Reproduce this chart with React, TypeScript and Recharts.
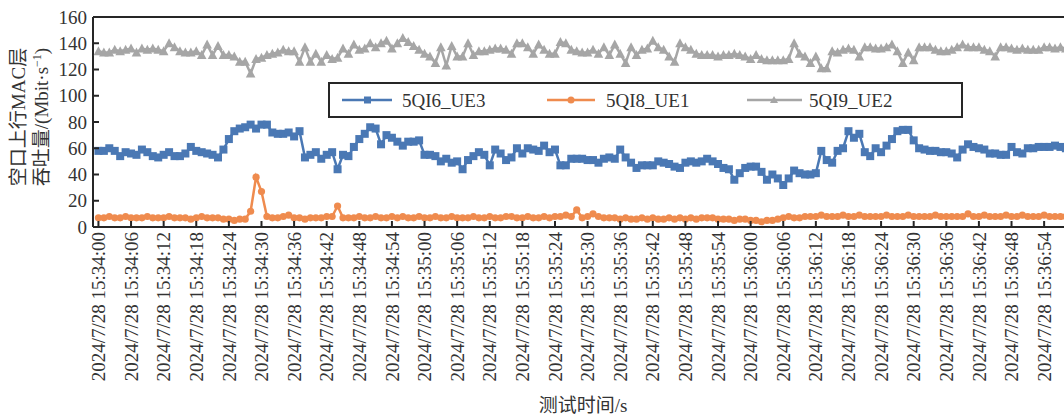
import { LineChart, Line, XAxis, YAxis, Legend, ReferenceLine } from "recharts";

// one sample per second, starting 2024/7/28 15:34:00
const UE3 = [
  58, 58, 60, 58, 54, 57, 56, 55, 59, 57,
  54, 53, 55, 57, 54, 54, 56, 61, 58, 57,
  56, 55, 53, 59, 67, 73, 75, 76, 78, 75,
  78, 78, 72, 71, 71, 72, 69, 73, 53, 55,
  57, 52, 55, 57, 44, 55, 54, 61, 67, 71,
  76, 75, 63, 70, 68, 65, 62, 65, 65, 66,
  55, 55, 54, 50, 52, 49, 50, 44, 51, 54,
  57, 55, 47, 59, 56, 51, 53, 60, 56, 60,
  59, 58, 62, 57, 59, 47, 47, 52, 52, 52,
  51, 51, 49, 52, 53, 52, 59, 53, 49, 45,
  47, 47, 47, 50, 49, 48, 46, 45, 49, 50,
  49, 50, 52, 50, 48, 45, 44, 36, 41, 45,
  46, 46, 42, 36, 40, 37, 32, 37, 43, 41,
  40, 40, 41, 58, 51, 49, 58, 60, 73, 68,
  71, 57, 54, 60, 57, 62, 67, 73, 74, 74,
  66, 60, 59, 58, 58, 57, 57, 56, 53, 59,
  63, 61, 60, 59, 56, 56, 55, 55, 61, 57,
  56, 60, 60, 61, 61, 61, 62, 61, 60,
];

const UE1 = [
  7, 7, 8, 7, 7, 8, 7, 7, 7, 8,
  7, 7, 7, 8, 7, 7, 7, 6, 7, 8,
  7, 7, 7, 6, 6, 5, 6, 6, 12, 38,
  27, 8, 7, 7, 8, 9, 7, 7, 6, 7,
  7, 7, 8, 8, 16, 7, 7, 7, 8, 7,
  7, 8, 7, 7, 8, 7, 8, 7, 7, 8,
  7, 7, 8, 7, 7, 8, 7, 7, 7, 8,
  7, 7, 8, 7, 7, 8, 8, 7, 7, 8,
  7, 7, 8, 7, 8, 8, 9, 8, 13, 7,
  8, 10, 8, 7, 7, 7, 6, 7, 6, 6,
  7, 6, 7, 6, 6, 7, 6, 7, 6, 7,
  6, 7, 7, 7, 6, 6, 6, 5, 6, 6,
  5, 5, 4, 5, 5, 6, 7, 8, 7, 7,
  8, 8, 8, 9, 8, 8, 8, 9, 8, 8,
  9, 8, 8, 8, 8, 9, 8, 8, 8, 9,
  8, 8, 8, 8, 9, 8, 8, 8, 8, 8,
  10, 8, 8, 9, 8, 8, 8, 9, 8, 8,
  9, 8, 8, 8, 9, 8, 8, 8, 8,
];

const UE2 = [
  134, 133, 133, 135, 134, 135, 136, 133, 136, 135,
  136, 135, 134, 140, 137, 134, 133, 133, 134, 131,
  139, 131, 138, 131, 131, 130, 126, 126, 117, 128,
  129, 131, 132, 133, 135, 134, 134, 126, 137, 126,
  132, 126, 131, 128, 129, 136, 132, 139, 135, 136,
  140, 137, 140, 142, 136, 140, 144, 141, 138, 135,
  132, 130, 125, 137, 123, 138, 130, 130, 140, 131,
  134, 134, 135, 136, 136, 135, 132, 140, 140, 137,
  132, 139, 135, 132, 132, 141, 140, 135, 134, 133,
  133, 135, 132, 137, 131, 139, 132, 125, 137, 131,
  135, 136, 142, 137, 135, 130, 126, 140, 137, 135,
  132, 131, 131, 131, 130, 131, 131, 132, 131, 130,
  128, 131, 128, 127, 127, 127, 127, 128, 140, 132,
  130, 125, 130, 121, 121, 134, 133, 135, 136, 135,
  130, 137, 137, 136, 136, 137, 139, 134, 125, 133,
  127, 137, 137, 137, 135, 134, 134, 135, 137, 139,
  137, 137, 137, 135, 134, 130, 137, 137, 136, 135,
  136, 135, 135, 135, 137, 137, 136, 137, 136,
];

const TICK_SECONDS = [
  0, 6, 12, 18, 24, 30, 36, 42, 48, 54, 60, 66, 72, 78, 84,
  90, 96, 102, 108, 114, 120, 126, 132, 138, 144, 150, 156, 162, 168, 174,
];

const TICK_LABELS = [
  "2024/7/28 15:34:00", "2024/7/28 15:34:06", "2024/7/28 15:34:12",
  "2024/7/28 15:34:18", "2024/7/28 15:34:24", "2024/7/28 15:34:30",
  "2024/7/28 15:34:36", "2024/7/28 15:34:42", "2024/7/28 15:34:48",
  "2024/7/28 15:34:54", "2024/7/28 15:35:00", "2024/7/28 15:35:06",
  "2024/7/28 15:35:12", "2024/7/28 15:35:18", "2024/7/28 15:35:24",
  "2024/7/28 15:35:30", "2024/7/28 15:35:36", "2024/7/28 15:35:42",
  "2024/7/28 15:35:48", "2024/7/28 15:35:54", "2024/7/28 15:36:00",
  "2024/7/28 15:36:06", "2024/7/28 15:36:12", "2024/7/28 15:36:18",
  "2024/7/28 15:36:24", "2024/7/28 15:36:30", "2024/7/28 15:36:36",
  "2024/7/28 15:36:42", "2024/7/28 15:36:48", "2024/7/28 15:36:54",
];

const Y_TICKS = [0, 20, 40, 60, 80, 100, 120, 140, 160];

const BLUE = "#4a78b4";
const ORANGE = "#ef8b4e";
const GRAY = "#a6a6a6";
const INK = "#333";
const AXIS = "#262626";
const FONT = '"Liberation Serif", "Times New Roman", "Noto Sans CJK SC", serif';

const AXIS_X = 93;
const AXIS_Y = 227;

const data = UE3.map((v, i) => ({ t: i, ue3: v, ue1: UE1[i], ue2: UE2[i] }));

function XTick({ x, payload }: any) {
  const label = TICK_LABELS[TICK_SECONDS.indexOf(payload.value)] ?? "";
  const ty = AXIS_Y + 5;
  return (
    <g>
      <line x1={x} x2={x} y1={AXIS_Y} y2={AXIS_Y - 6} stroke={AXIS} strokeWidth={2} />
      <text
        x={x}
        y={ty}
        transform={`rotate(-90, ${x}, ${ty})`}
        textAnchor="end"
        dy="0.35em"
        fontSize={19}
        fill={INK}
        fontFamily={FONT}
      >
        {label}
      </text>
    </g>
  );
}

function YTick({ y, payload }: any) {
  return (
    <g>
      <line x1={AXIS_X} x2={AXIS_X + 6} y1={y} y2={y} stroke={AXIS} strokeWidth={2} />
      <text
        x={AXIS_X - 6}
        y={y}
        dy="0.35em"
        textAnchor="end"
        fontSize={19}
        fill={INK}
        fontFamily={FONT}
      >
        {payload.value}
      </text>
    </g>
  );
}

function SquareDot({ cx, cy }: any) {
  if (cx == null || cy == null) return null;
  return <rect x={cx - 4} y={cy - 4} width={8} height={8} fill={BLUE} />;
}

function CircleDot({ cx, cy }: any) {
  if (cx == null || cy == null) return null;
  return <circle cx={cx} cy={cy} r={3.6} fill={ORANGE} />;
}

function TriangleDot({ cx, cy }: any) {
  if (cx == null || cy == null) return null;
  return (
    <path d={`M${cx},${cy - 5} L${cx + 4.8},${cy + 4} L${cx - 4.8},${cy + 4} Z`} fill={GRAY} />
  );
}

function LegendBox() {
  const cy = 18;
  const text = { fontSize: 19, fill: INK, fontFamily: FONT } as const;
  return (
    <svg width={636} height={37} style={{ display: "block" }}>
      <rect x={1} y={1} width={633} height={34} fill="#fff" stroke={AXIS} strokeWidth={2} />
      <line x1={14} x2={64} y1={cy} y2={cy} stroke={BLUE} strokeWidth={2.5} />
      <rect x={36} y={cy - 3.5} width={7} height={7} fill={BLUE} />
      <text x={74} y={cy} dy="0.35em" {...text}>5QI6_UE3</text>
      <line x1={219} x2={267} y1={cy} y2={cy} stroke={ORANGE} strokeWidth={2.5} />
      <circle cx={243} cy={cy} r={3.5} fill={ORANGE} />
      <text x={278} y={cy} dy="0.35em" {...text}>5QI8_UE1</text>
      <line x1={419} x2={474} y1={cy} y2={cy} stroke={GRAY} strokeWidth={2.5} />
      <path d={`M446,${cy - 4} L450,${cy + 3} L442,${cy + 3} Z`} fill={GRAY} />
      <text x={481} y={cy} dy="0.35em" {...text}>5QI9_UE2</text>
    </svg>
  );
}

function AxisTitles() {
  const t = { fontSize: 19, fill: INK, fontFamily: FONT } as const;
  return (
    <g>
      <text x={18} y={117} transform="rotate(-90, 18, 117)" textAnchor="middle" dy="0.35em" {...t}>
        空口上行MAC层
      </text>
      <text x={41} y={117} transform="rotate(-90, 41, 117)" textAnchor="middle" dy="0.35em" {...t}>
        吞吐量/(Mbit·s
        <tspan fontSize={12} dy="-7">−1</tspan>
        <tspan dy="7">)</tspan>
      </text>
      <text x={583} y={405} textAnchor="middle" dy="0.35em" {...t}>
        测试时间/s
      </text>
    </g>
  );
}

export default function App() {
  return (
    <div
      style={{
        position: "fixed",
        left: 0,
        top: 0,
        width: 1064,
        height: 417,
        overflow: "hidden",
        background: "#fff",
      }}
    >
      <LineChart
        width={1080}
        height={417}
        data={data}
        margin={{ top: 17, right: 0, bottom: 0, left: 0 }}
      >
        <XAxis
          dataKey="t"
          type="number"
          domain={[-1, 180.6]}
          ticks={TICK_SECONDS}
          interval={0}
          allowDataOverflow
          height={190}
          tickLine={false}
          axisLine={{ stroke: AXIS, strokeWidth: 2 }}
          tick={<XTick />}
        />
        <YAxis
          type="number"
          domain={[0, 160]}
          ticks={Y_TICKS}
          interval={0}
          width={93}
          tickLine={false}
          axisLine={{ stroke: AXIS, strokeWidth: 2 }}
          tick={<YTick />}
        />
        <ReferenceLine y={160} stroke={AXIS} strokeWidth={2} />
        <Line
          dataKey="ue2"
          stroke={GRAY}
          strokeWidth={2.5}
          isAnimationActive={false}
          dot={(p: any) => <TriangleDot key={`g${p.index}`} {...p} />}
        />
        <Line
          dataKey="ue1"
          stroke={ORANGE}
          strokeWidth={2.5}
          isAnimationActive={false}
          dot={(p: any) => <CircleDot key={`o${p.index}`} {...p} />}
        />
        <Line
          dataKey="ue3"
          stroke={BLUE}
          strokeWidth={2.5}
          isAnimationActive={false}
          dot={(p: any) => <SquareDot key={`b${p.index}`} {...p} />}
        />
        <Legend
          layout="horizontal"
          verticalAlign="middle"
          align="center"
          wrapperStyle={{ left: 328, top: 82, width: 636, height: 37 }}
          content={() => <LegendBox />}
        />
        <AxisTitles />
      </LineChart>
    </div>
  );
}
